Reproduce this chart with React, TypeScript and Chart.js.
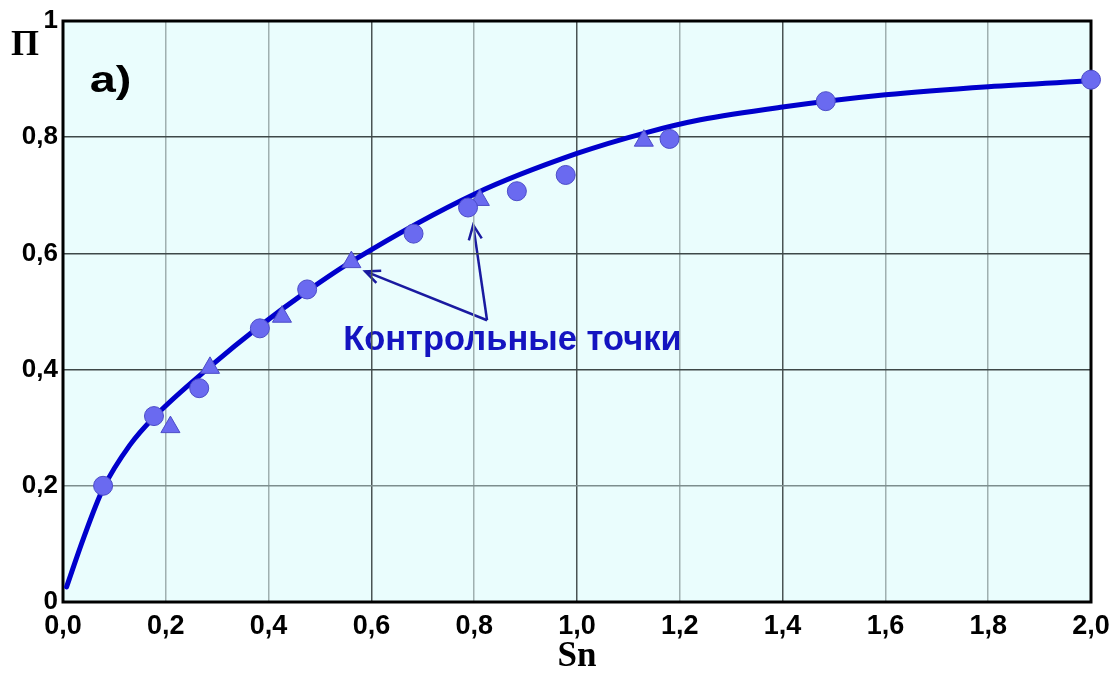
import React, { useEffect, useRef } from "react";
import { Chart, registerables } from "chart.js";
Chart.register(...registerables);

// fitted curve
const curveS = [0.007, 0.04, 0.078, 0.13, 0.177, 0.286, 0.383, 0.475, 0.565, 0.8, 1.0, 1.135, 1.24, 1.4, 1.6, 1.8, 2.0];
const curveP = [0.026, 0.11, 0.195, 0.27, 0.318, 0.405, 0.475, 0.535, 0.588, 0.702, 0.772, 0.808, 0.83, 0.852, 0.873, 0.887, 0.897];

// experimental points (circles)
const circleS = [0.078, 0.177, 0.265, 0.383, 0.475, 0.682, 0.788, 0.883, 0.978, 1.18, 1.484, 2.0];
const circleP = [0.2, 0.32, 0.368, 0.471, 0.538, 0.634, 0.679, 0.707, 0.735, 0.797, 0.862, 0.899];

// control points (triangles)
const triS = [0.209, 0.286, 0.426, 0.561, 0.811, 1.13];
const triP = [0.301, 0.403, 0.491, 0.585, 0.692, 0.794];

const xTitle = "Sn";
const yTitle = "П";
const panelLabel = "a)";
const noteText = "Контрольные точки";
// annotation anchors in data units
const noteAt = { x: 0.545, y: 0.433 };
const arrowFrom = { x: 0.825, y: 0.485 };
const arrowTips = [
  { x: 0.588, y: 0.569 },
  { x: 0.798, y: 0.649 },
];
const panelAt = { x: 0.052, y: 0.878 };

const fmt = (v: number) => v.toFixed(1).replace(".", ",");

export default function App() {
  const ref = useRef<HTMLCanvasElement>(null);
  useEffect(() => {
    document.body.style.margin = "0";
    const canvas = ref.current!;
    const deco = {
      id: "deco",
      beforeDraw(chart: any) {
        const { ctx, chartArea: a, scales } = chart;
        const xs = scales.x, ys = scales.y;
        ctx.save();
        ctx.fillStyle = "#ffffff";
        ctx.fillRect(0, 0, chart.width, chart.height);
        ctx.fillStyle = "#eafdfd";
        ctx.fillRect(a.left, a.top, a.right - a.left, a.bottom - a.top);
        // note text
        ctx.fillStyle = "#1414c0";
        ctx.font = 'bold 34.5px "Liberation Sans", Arial, sans-serif';
        ctx.textAlign = "left";
        ctx.textBaseline = "alphabetic";
        ctx.fillText(noteText, xs.getPixelForValue(noteAt.x), ys.getPixelForValue(noteAt.y));
        // arrows
        ctx.strokeStyle = "#1a1aa0";
        ctx.lineWidth = 2.5;
        const fx = xs.getPixelForValue(arrowFrom.x), fy = ys.getPixelForValue(arrowFrom.y);
        for (const t of arrowTips) {
          const tx = xs.getPixelForValue(t.x), ty = ys.getPixelForValue(t.y);
          ctx.beginPath();
          ctx.moveTo(fx, fy);
          ctx.lineTo(tx, ty);
          ctx.stroke();
          const ang = Math.atan2(fy - ty, fx - tx);
          const L = 16, s = 0.42;
          ctx.beginPath();
          ctx.moveTo(tx + L * Math.cos(ang + s), ty + L * Math.sin(ang + s));
          ctx.lineTo(tx, ty);
          ctx.lineTo(tx + L * Math.cos(ang - s), ty + L * Math.sin(ang - s));
          ctx.stroke();
        }
        // panel label (wide face)
        ctx.fillStyle = "#000";
        ctx.font = 'bold 36px "Liberation Sans", Arial, sans-serif';
        ctx.save();
        ctx.translate(xs.getPixelForValue(panelAt.x), ys.getPixelForValue(panelAt.y));
        ctx.scale(1.3, 1);
        ctx.fillText(panelLabel, 0, 0);
        ctx.restore();
        // y title
        ctx.font = 'bold 36px "Liberation Serif", "Times New Roman", serif';
        ctx.fillText(yTitle, 11, 55);
        ctx.restore();
      },
      beforeDatasetsDraw(chart: any) {
        const { ctx, chartArea: a } = chart;
        ctx.save();
        ctx.strokeStyle = "#000";
        ctx.lineWidth = 3;
        ctx.strokeRect(a.left, a.top, a.right - a.left, a.bottom - a.top);
        ctx.restore();
      },
    };
    const marker = "#6a6af0";
    const markerBorder = "#4c4cc8";
    const chart = new Chart(canvas, {
      type: "scatter",
      data: {
        datasets: [
          {
            label: "circles",
            data: circleS.map((x, i) => ({ x, y: circleP[i] })),
            pointStyle: "circle",
            pointRadius: 9.5,
            backgroundColor: marker,
            borderColor: markerBorder,
            borderWidth: 1,
            showLine: false,
            clip: false as any,
          },
          {
            label: "triangles",
            data: triS.map((x, i) => ({ x, y: triP[i] })),
            pointStyle: "triangle",
            pointRadius: 11,
            backgroundColor: marker,
            borderColor: markerBorder,
            borderWidth: 1,
            showLine: false,
            clip: false as any,
          },
          {
            label: "curve",
            type: "line" as any,
            data: curveS.map((x, i) => ({ x, y: curveP[i] })),
            borderColor: "#0000cc",
            borderWidth: 5,
            pointRadius: 0,
            fill: false,
            cubicInterpolationMode: "monotone",
            showLine: true,
            borderCapStyle: "round",
            clip: false as any,
          },
        ],
      },
      options: {
        responsive: false,
        animation: false,
        layout: { padding: { left: 0, right: 19, top: 21, bottom: 0 } },
        plugins: { legend: { display: false }, tooltip: { enabled: false } },
        scales: {
          x: {
            type: "linear",
            min: 0,
            max: 2,
            afterFit: (s: any) => { s.height = 72; s.paddingLeft = 0; s.paddingRight = 0; },
            border: { display: false },
            grid: {
              drawTicks: false,
              lineWidth: 1.5,
              color: (c: any) => {
                const k = Math.round((c.tick?.value ?? 0) * 10);
                return k === 6 || k === 10 || k === 14 ? "#4a5454" : "#9fb0b0";
              },
            },
            ticks: {
              stepSize: 0.2,
              padding: 8,
              color: "#000",
              font: { family: '"Liberation Sans", Arial, sans-serif', weight: "bold", size: 27 },
              callback: (v: any) => fmt(Number(v)),
              maxRotation: 0,
              autoSkip: false,
            },
            title: {
              display: true,
              text: xTitle,
              color: "#000",
              font: { family: '"Liberation Serif", "Times New Roman", serif', weight: "bold", size: 35, lineHeight: 1 },
              padding: { top: 0, bottom: 0 },
            },
          },
          y: {
            type: "linear",
            min: 0,
            max: 1,
            afterFit: (s: any) => { s.width = 63; s.paddingTop = 0; s.paddingBottom = 0; },
            border: { display: false },
            grid: {
              drawTicks: false,
              lineWidth: 1.5,
              color: (c: any) => {
                const k = Math.round((c.tick?.value ?? 0) * 10);
                return k === 2 ? "#7d8e8e" : "#3e4848";
              },
            },
            ticks: {
              stepSize: 0.2,
              padding: 5,
              color: "#000",
              font: { family: '"Liberation Sans", Arial, sans-serif', weight: "bold", size: 26 },
              callback: (v: any) => {
                const n = Number(v);
                if (Math.abs(n) < 1e-9) return "0";
                if (Math.abs(n - 1) < 1e-9) return "1";
                return fmt(n);
              },
            },
          },
        },
      },
      plugins: [deco],
    });
    return () => chart.destroy();
  }, []);
  return (
    <div style={{ width: 1110, height: 674, position: "relative" }}>
      <canvas ref={ref} width={1110} height={674} style={{ display: "block" }} />
    </div>
  );
}
